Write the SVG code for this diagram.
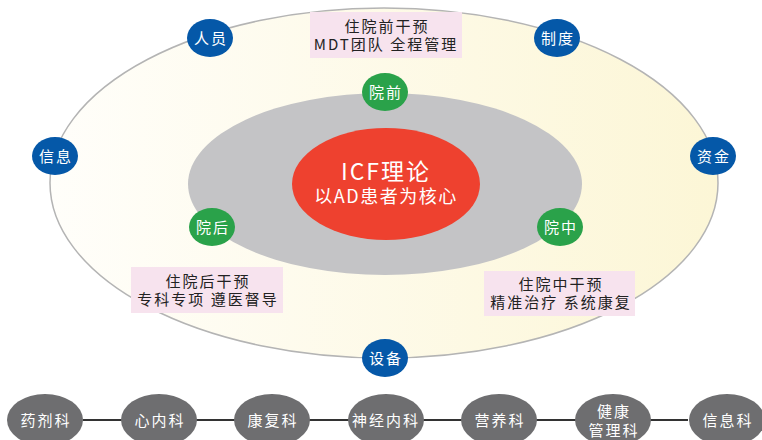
<svg xmlns="http://www.w3.org/2000/svg" width="762" height="440" viewBox="0 0 762 440">
<defs>
<linearGradient id="outerFill" x1="0" y1="0" x2="1" y2="0">
<stop offset="0" stop-color="#fffefa"/>
<stop offset="1" stop-color="#fcf6d6"/>
</linearGradient>
</defs>
<style>
text{font-family:"Noto Sans CJK SC","Liberation Sans",sans-serif;text-anchor:middle}
.blue{fill:#0558a8}
.green{fill:#2aa24a}
.dept{fill:#6e6e70}
.wt{fill:#fff;font-size:15px;letter-spacing:2px}
.pink{fill:#f7e3ee}
.pt{fill:#222;font-size:15px;letter-spacing:2px}
.link{stroke:#333;stroke-width:2;fill:none}
</style>
<rect width="762" height="440" fill="#fff"/>
<g id="outer"><ellipse cx="384" cy="183" rx="334" ry="175" fill="url(#outerFill)" stroke="#b4b4b4" stroke-width="1.5"/></g>
<g id="inner"><ellipse cx="385" cy="184" rx="197" ry="91" fill="#c4c4c6"/></g>
<g id="core"><ellipse cx="386" cy="184" rx="94" ry="56" fill="#ee412f"/>
<text x="386" y="180" fill="#fff" font-size="23" letter-spacing="2">ICF理论</text>
<text x="386" y="203" fill="#fff" font-size="18" letter-spacing="1.5">以AD患者为核心</text></g>
<g id="pre-box"><rect class="pink" x="310" y="12" width="152" height="46"/>
<text class="pt" x="387" y="32">住院前干预</text><text class="pt" x="386" y="50" letter-spacing="1">MDT团队 全程管理</text></g>
<g id="post-box"><rect class="pink" x="131" y="267" width="152" height="46"/>
<text class="pt" x="208" y="287">住院后干预</text><text class="pt" x="208" y="305">专科专项 遵医督导</text></g>
<g id="mid-box"><rect class="pink" x="484" y="271" width="151" height="45"/>
<text class="pt" x="561" y="290">住院中干预</text><text class="pt" x="561" y="308">精准治疗 系统康复</text></g>
<g id="renyuan"><ellipse class="blue" cx="210" cy="38" rx="23" ry="19"/><text class="wt" x="211" y="44">人员</text></g>
<g id="zhidu"><ellipse class="blue" cx="557" cy="38" rx="23" ry="19"/><text class="wt" x="558" y="44">制度</text></g>
<g id="xinxi"><ellipse class="blue" cx="55" cy="156" rx="23" ry="19"/><text class="wt" x="56" y="162">信息</text></g>
<g id="zijin"><ellipse class="blue" cx="713" cy="156" rx="23" ry="19"/><text class="wt" x="714" y="162">资金</text></g>
<g id="shebei"><ellipse class="blue" cx="385" cy="358" rx="23" ry="19"/><text class="wt" x="386" y="364">设备</text></g>
<g id="yuanqian"><ellipse class="green" cx="385" cy="92" rx="23" ry="19"/><text class="wt" x="386" y="98">院前</text></g>
<g id="yuanhou"><ellipse class="green" cx="212" cy="227" rx="23" ry="19"/><text class="wt" x="213" y="233">院后</text></g>
<g id="yuanzhong"><ellipse class="green" cx="560" cy="227" rx="23" ry="19"/><text class="wt" x="561" y="233">院中</text></g>
<g id="connectors">
<line class="link" x1="83" y1="420" x2="688" y2="420"/>
</g>
<g id="d1"><ellipse class="dept" cx="45" cy="420" rx="38" ry="26"/><text class="wt" x="46" y="426">药剂科</text></g>
<g id="d2"><ellipse class="dept" cx="159" cy="420" rx="38" ry="26"/><text class="wt" x="160" y="426">心内科</text></g>
<g id="d3"><ellipse class="dept" cx="272" cy="420" rx="38" ry="26"/><text class="wt" x="273" y="426">康复科</text></g>
<g id="d4"><ellipse class="dept" cx="386" cy="420" rx="38" ry="26"/><text class="wt" x="386" y="426" letter-spacing="0.5">神经内科</text></g>
<g id="d5"><ellipse class="dept" cx="499" cy="420" rx="38" ry="26"/><text class="wt" x="500" y="426">营养科</text></g>
<g id="d6"><ellipse class="dept" cx="613" cy="420" rx="38" ry="26"/><text class="wt" x="614" y="417">健康</text><text class="wt" x="614" y="436">管理科</text></g>
<g id="d7"><ellipse class="dept" cx="727" cy="420" rx="38" ry="26"/><text class="wt" x="728" y="426">信息科</text></g>
</svg>
